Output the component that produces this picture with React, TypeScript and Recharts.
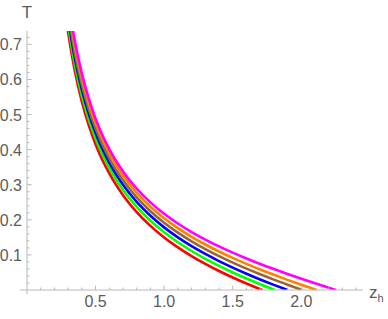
import React from 'react';
import { LineChart, Line, XAxis, YAxis, ReferenceLine, Label } from 'recharts';

const redCurve = [
  { z: 0.29, T: 0.76 }, { z: 0.3, T: 0.7335 }, { z: 0.35, T: 0.6216 }, { z: 0.4, T: 0.5366 },
  { z: 0.45, T: 0.4697 }, { z: 0.5, T: 0.4154 }, { z: 0.6, T: 0.332 }, { z: 0.7, T: 0.2703 },
  { z: 0.8, T: 0.222 }, { z: 0.9, T: 0.1827 }, { z: 1.0, T: 0.1498 }, { z: 1.1, T: 0.1215 },
  { z: 1.2, T: 0.0966 }, { z: 1.3, T: 0.0743 }, { z: 1.4, T: 0.0541 }, { z: 1.5, T: 0.0356 },
  { z: 1.6, T: 0.0184 }, { z: 1.715, T: 0 },
];
const greenCurve = [
  { z: 0.3, T: 0.7523 }, { z: 0.35, T: 0.639 }, { z: 0.4, T: 0.5532 }, { z: 0.45, T: 0.4857 },
  { z: 0.5, T: 0.4309 }, { z: 0.6, T: 0.347 }, { z: 0.7, T: 0.285 }, { z: 0.8, T: 0.2366 },
  { z: 0.9, T: 0.1974 }, { z: 1.0, T: 0.1644 }, { z: 1.1, T: 0.136 }, { z: 1.2, T: 0.1111 },
  { z: 1.3, T: 0.0888 }, { z: 1.4, T: 0.0686 }, { z: 1.5, T: 0.05 }, { z: 1.6, T: 0.0327 },
  { z: 1.7, T: 0.0165 }, { z: 1.808, T: 0 },
];
const blueCurve = [
  { z: 0.3, T: 0.7731 }, { z: 0.35, T: 0.658 }, { z: 0.4, T: 0.5709 }, { z: 0.45, T: 0.5024 },
  { z: 0.5, T: 0.447 }, { z: 0.6, T: 0.3622 }, { z: 0.7, T: 0.2996 }, { z: 0.8, T: 0.251 },
  { z: 0.9, T: 0.2115 }, { z: 1.0, T: 0.1785 }, { z: 1.1, T: 0.1501 }, { z: 1.2, T: 0.1251 },
  { z: 1.3, T: 0.1028 }, { z: 1.4, T: 0.0825 }, { z: 1.5, T: 0.0638 }, { z: 1.6, T: 0.0464 },
  { z: 1.7, T: 0.0301 }, { z: 1.8, T: 0.0147 }, { z: 1.9, T: 0 },
];
const brownCurve = [
  { z: 0.3, T: 0.7899 }, { z: 0.35, T: 0.6734 }, { z: 0.4, T: 0.5853 }, { z: 0.45, T: 0.5162 },
  { z: 0.5, T: 0.4604 }, { z: 0.6, T: 0.3751 }, { z: 0.7, T: 0.3125 }, { z: 0.8, T: 0.2638 },
  { z: 0.9, T: 0.2245 }, { z: 1.0, T: 0.1916 }, { z: 1.1, T: 0.1635 }, { z: 1.2, T: 0.1387 },
  { z: 1.3, T: 0.1166 }, { z: 1.4, T: 0.0965 }, { z: 1.5, T: 0.0781 }, { z: 1.6, T: 0.0609 },
  { z: 1.7, T: 0.0448 }, { z: 1.8, T: 0.0295 }, { z: 1.9, T: 0.015 }, { z: 2.007, T: 0 },
];
const orangeCurve = [
  { z: 0.3, T: 0.8091 }, { z: 0.35, T: 0.6906 }, { z: 0.4, T: 0.6012 }, { z: 0.45, T: 0.5311 },
  { z: 0.5, T: 0.4746 }, { z: 0.6, T: 0.3884 }, { z: 0.7, T: 0.3253 }, { z: 0.8, T: 0.2765 },
  { z: 0.9, T: 0.2371 }, { z: 1.0, T: 0.2043 }, { z: 1.1, T: 0.1762 }, { z: 1.2, T: 0.1516 },
  { z: 1.3, T: 0.1297 }, { z: 1.4, T: 0.1098 }, { z: 1.5, T: 0.0915 }, { z: 1.6, T: 0.0745 },
  { z: 1.7, T: 0.0585 }, { z: 1.8, T: 0.0434 }, { z: 1.9, T: 0.0289 }, { z: 2.0, T: 0.015 },
  { z: 2.112, T: 0 },
];
const magentaCurve = [
  { z: 0.31, T: 0.8008 }, { z: 0.33, T: 0.7514 }, { z: 0.35, T: 0.7075 }, { z: 0.4, T: 0.6167 },
  { z: 0.45, T: 0.5457 }, { z: 0.5, T: 0.4884 }, { z: 0.6, T: 0.4014 }, { z: 0.7, T: 0.3379 },
  { z: 0.8, T: 0.289 }, { z: 0.9, T: 0.2497 }, { z: 1.0, T: 0.2172 }, { z: 1.1, T: 0.1894 },
  { z: 1.2, T: 0.1652 }, { z: 1.3, T: 0.1437 }, { z: 1.4, T: 0.1242 }, { z: 1.5, T: 0.1064 },
  { z: 1.6, T: 0.0898 }, { z: 1.7, T: 0.0743 }, { z: 1.8, T: 0.0597 }, { z: 1.9, T: 0.0456 },
  { z: 2.0, T: 0.0322 }, { z: 2.1, T: 0.0192 }, { z: 2.2, T: 0.0066 }, { z: 2.253, T: 0 },
];

const series = [
  { name: 'red', data: redCurve, color: '#ff0000' },
  { name: 'green', data: greenCurve, color: '#00ff00' },
  { name: 'blue', data: blueCurve, color: '#0000ff' },
  { name: 'brown', data: brownCurve, color: '#996633' },
  { name: 'orange', data: orangeCurve, color: '#ff8000' },
  { name: 'magenta', data: magentaCurve, color: '#ff00ff' },
];

const xTicks = [0.1, 0.2, 0.3, 0.4, 0.5, 0.6, 0.7, 0.8, 0.9, 1.0, 1.1, 1.2, 1.3, 1.4, 1.5, 1.6, 1.7, 1.8, 1.9, 2.0, 2.1, 2.2, 2.3, 2.4];
const xLabels = [0.5, 1.0, 1.5, 2.0];
const yTicks = [0.02, 0.04, 0.06, 0.08, 0.1, 0.12, 0.14, 0.16, 0.18, 0.2, 0.22, 0.24, 0.26, 0.28, 0.3, 0.32, 0.34, 0.36, 0.38, 0.4, 0.42, 0.44, 0.46, 0.48, 0.5, 0.52, 0.54, 0.56, 0.58, 0.6, 0.62, 0.64, 0.66, 0.68, 0.7, 0.72];
const yLabels = [0.1, 0.2, 0.3, 0.4, 0.5, 0.6, 0.7];

const AXIS = '#b8b8b8';
const TEXT = '#5c5c5c';
const FONT = '"Liberation Sans", Arial, sans-serif';
const FS = 16;

const XTick = (props: any) => {
  const { x, y, payload } = props;
  const v = payload.value;
  const major = xLabels.some((l) => Math.abs(l - v) < 1e-6);
  return (
    <g>
      <line x1={x} x2={x} y1={y} y2={y - (major ? 4.5 : 2.5)} stroke={AXIS} strokeWidth={1} />
      {major && (
        <text x={x} y={y + 17} textAnchor="middle" fill={TEXT} fontSize={FS} fontFamily={FONT}>
          {v.toFixed(1)}
        </text>
      )}
    </g>
  );
};

const YTick = (props: any) => {
  const { x, y, payload } = props;
  const v = payload.value;
  const major = yLabels.some((l) => Math.abs(l - v) < 1e-6);
  return (
    <g>
      <line x1={x} x2={x + (major ? 4.5 : 2.5)} y1={y} y2={y} stroke={AXIS} strokeWidth={1} />
      {major && (
        <text x={x - 5} y={y + 6} textAnchor="end" fill={TEXT} fontSize={FS} fontFamily={FONT}>
          {v.toFixed(1)}
        </text>
      )}
    </g>
  );
};

const XName = (props: any) => {
  const vb = props.viewBox || {};
  const x = vb.x + vb.width + 6;
  const y = vb.y + 8;
  return (
    <text x={x} y={y} fill={TEXT} fontSize={FS + 1} fontFamily={FONT}>
      z<tspan fontSize={11} dy={4}>h</tspan>
    </text>
  );
};

const YName = (props: any) => {
  const vb = props.viewBox || {};
  const x = vb.x + vb.width;
  const y = vb.y - 13;
  return (
    <text x={x} y={y} textAnchor="middle" fill={TEXT} fontSize={FS + 1} fontFamily={FONT}>
      T
    </text>
  );
};

export default function App() {
  return (
    <div style={{ position: 'absolute', left: 0, top: 0, width: 388, height: 319, background: '#fff' }}>
      <LineChart width={388} height={319} margin={{ top: 31, right: 25, left: 0, bottom: 0 }}>
        <XAxis
          dataKey="z"
          type="number"
          domain={[0, 2.45]}
          allowDataOverflow
          ticks={xTicks}
          interval={0}
          minTickGap={0}
          tickSize={0}
          tickMargin={0}
          tick={<XTick />}
          stroke={AXIS}
          height={29}
        >
          <Label content={<XName />} />
        </XAxis>
        <YAxis
          dataKey="T"
          type="number"
          domain={[0, 0.738]}
          allowDataOverflow
          ticks={yTicks}
          interval={0}
          minTickGap={0}
          tickSize={0}
          tickMargin={0}
          tick={<YTick />}
          stroke={AXIS}
          width={27}
        >
          <Label content={<YName />} />
        </YAxis>
        <ReferenceLine segment={[{ x: -0.05, y: 0 }, { x: 0, y: 0 }]} stroke={AXIS} ifOverflow="visible" />
        <ReferenceLine segment={[{ x: 0, y: -0.012 }, { x: 0, y: 0 }]} stroke={AXIS} ifOverflow="visible" />
        {series.map((s) => (
          <Line
            key={s.name}
            data={s.data}
            dataKey="T"
            type="monotone"
            stroke={s.color}
            strokeWidth={2.6}
            dot={false}
            activeDot={false}
            isAnimationActive={false}
          />
        ))}
      </LineChart>
    </div>
  );
}
